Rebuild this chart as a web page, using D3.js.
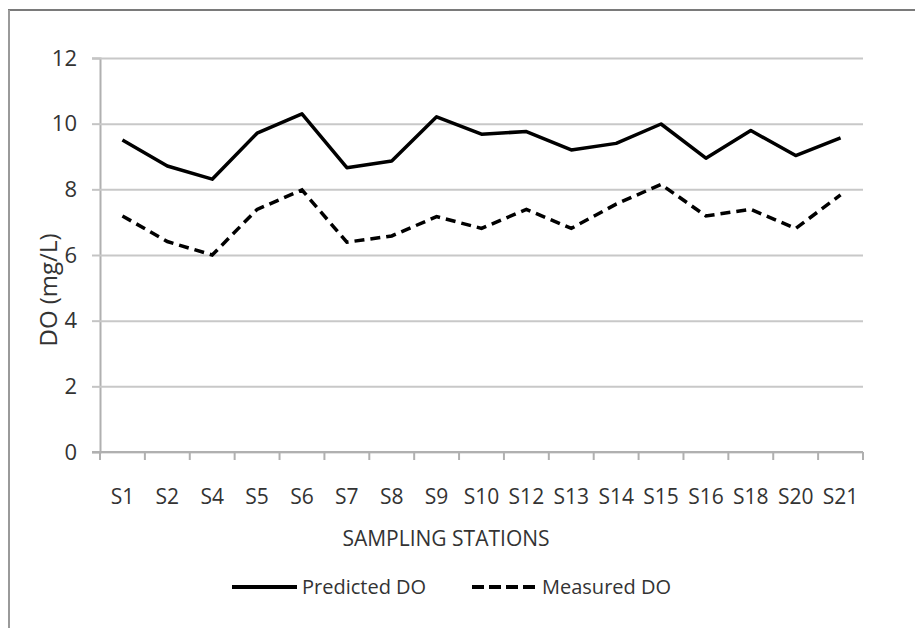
<!DOCTYPE html>
<html>
<head>
<meta charset="utf-8">
<script src="https://cdn.jsdelivr.net/npm/d3@7"></script>
<style>
  body { margin: 0; background: #fff; }
  text { font-family: "Open Sans", sans-serif; fill: #333; }
</style>
</head>
<body>
<script>
// stations and DO values
const stations = ["S1","S2","S4","S5","S6","S7","S8","S9","S10","S12","S13","S14","S15","S16","S18","S20","S21"];
const predictedDO = [9.50, 8.71, 8.31, 9.71, 10.30, 8.66, 8.86, 10.21, 9.68, 9.76, 9.20, 9.40, 9.99, 8.95, 9.79, 9.03, 9.57];
const measuredDO  = [7.19, 6.41, 6.00, 7.39, 7.98, 6.39, 6.58, 7.17, 6.81, 7.39, 6.81, 7.55, 8.15, 7.19, 7.39, 6.81, 7.83];
const yTicks = [0, 2, 4, 6, 8, 10, 12];

const W = 915, H = 628;
const margin = { top: 58, right: 52, bottom: 176, left: 100 };

const svg = d3.select("body").append("svg")
    .attr("width", W)
    .attr("height", H);

// outer frame (top and left edges only visible)
svg.append("line").attr("x1", 8).attr("x2", W).attr("y1", 10).attr("y2", 10)
    .attr("stroke", "#7a7a7a").attr("stroke-width", 2);
svg.append("line").attr("x1", 9).attr("x2", 9).attr("y1", 10).attr("y2", H)
    .attr("stroke", "#9a9a9a").attr("stroke-width", 2);

const x = d3.scaleBand()
    .domain(stations)
    .range([margin.left, W - margin.right]);

const y = d3.scaleLinear()
    .domain([0, 12])
    .range([H - margin.bottom, margin.top]);

// gridlines + y axis
svg.append("g")
    .attr("transform", `translate(${margin.left},0)`)
    .call(d3.axisLeft(y).tickValues(yTicks).tickSize(8).tickPadding(15))
    .call(g => g.select(".domain").attr("stroke", "#b0b0b0").attr("stroke-width", 2))
    .call(g => g.selectAll(".tick line").attr("stroke", "#c4c4c4").attr("stroke-width", 2))
    .call(g => g.selectAll(".tick text").attr("font-size", 22).attr("font-family", "Open Sans").attr("fill", "#333"))
    .call(g => g.selectAll(".tick").append("line")
        .attr("x2", W - margin.right - margin.left)
        .attr("stroke", "#c8c8c8").attr("stroke-width", 2));

// x axis with ticks between categories
const xAxis = svg.append("g")
    .attr("transform", `translate(0,${y(0)})`);
xAxis.append("line")
    .attr("x1", margin.left - 8).attr("x2", W - margin.right)
    .attr("stroke", "#b0b0b0").attr("stroke-width", 2);
xAxis.selectAll("line.tk")
    .data(stations.concat(["end"]))
    .join("line")
    .attr("class", "tk")
    .attr("x1", (d, i) => i < stations.length ? x(d) : x(stations[stations.length - 1]) + x.bandwidth())
    .attr("x2", (d, i) => i < stations.length ? x(d) : x(stations[stations.length - 1]) + x.bandwidth())
    .attr("y1", 0).attr("y2", 8)
    .attr("stroke", "#b0b0b0").attr("stroke-width", 2);
xAxis.selectAll("text")
    .data(stations)
    .join("text")
    .attr("x", d => x(d) + x.bandwidth() / 2)
    .attr("y", 52)
    .attr("text-anchor", "middle")
    .attr("font-size", 21)
    .text(d => d);

// axis titles
svg.append("text")
    .attr("x", 446).attr("y", 546)
    .attr("text-anchor", "middle")
    .attr("font-size", 21)
    .text("SAMPLING STATIONS");

svg.append("text")
    .attr("transform", "translate(57,290) rotate(-90)")
    .attr("text-anchor", "middle")
    .attr("font-size", 24)
    .text("DO (mg/L)");

// lines
const line = d3.line()
    .x((d, i) => x(stations[i]) + x.bandwidth() / 2)
    .y(d => y(d));

svg.append("path")
    .datum(predictedDO)
    .attr("fill", "none")
    .attr("stroke", "#000")
    .attr("stroke-width", 3.5)
    .attr("stroke-linejoin", "round")
    .attr("d", line);

svg.append("path")
    .datum(measuredDO)
    .attr("fill", "none")
    .attr("stroke", "#000")
    .attr("stroke-width", 3.5)
    .attr("stroke-dasharray", "10,6")
    .attr("d", line);

// legend
const legend = [
    { name: "Predicted DO", x: 232, dash: null },
    { name: "Measured DO", x: 472, dash: "12,5" }
];
const lg = svg.append("g").selectAll("g")
    .data(legend)
    .join("g")
    .attr("transform", d => `translate(${d.x},587)`);
lg.append("line")
    .attr("x1", 0).attr("x2", 65)
    .attr("stroke", "#000").attr("stroke-width", 4)
    .attr("stroke-dasharray", d => d.dash);
lg.append("text")
    .attr("x", 70).attr("dy", "0.35em")
    .attr("font-size", 20)
    .text(d => d.name);
</script>
</body>
</html>
